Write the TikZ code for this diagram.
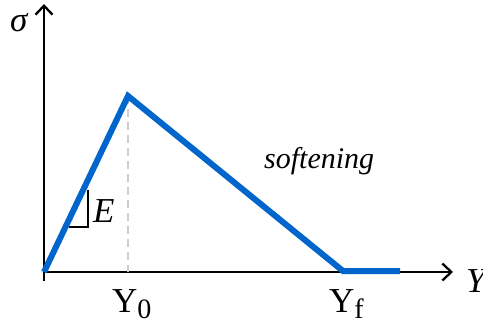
\documentclass[tikz,border=0pt]{standalone}
\usepackage{fontspec}
\setmainfont{Liberation Serif}
\usetikzlibrary{arrows.meta}
\definecolor{curveblue}{RGB}{0,102,204}
\definecolor{dashgrey}{RGB}{205,205,205}
\begin{document}
\begin{tikzpicture}[x=1pt,y=-1pt,
  axis/.style={line width=2.3pt,-{Straight Barb[length=9pt,width=17pt,line width=2.3pt]}},
  curve/.style={line width=6pt,curveblue,line join=miter,line cap=butt},
  guide/.style={line width=2pt,dashgrey,dash pattern=on 8pt off 5pt},
  lab/.style={inner sep=0pt,anchor=base west,font=\fontsize{35}{40}\selectfont}]
\useasboundingbox (0,0) rectangle (483,325);
\coordinate (O) at (44,272);
\coordinate (Ytop) at (44,4);
\coordinate (Xend) at (453,272);
\coordinate (P) at (128,96);
\coordinate (P0) at (128,272);
\coordinate (F) at (343,271);
\coordinate (R) at (400,271);
\coordinate (T) at (44,281);
\coordinate (Ea) at (69,227);
\coordinate (Eb) at (88,227);
\coordinate (Ec) at (88,190);
% axes
\draw[axis] (O) -- (Ytop);
\draw[axis] (O) -- (Xend);
\draw[line width=2.3pt] (O) -- (T);
% dashed guide
\draw[guide] (P) -- (P0);
% slope triangle
\draw[line width=1.8pt] (Ea) -- (Eb) -- (Ec);
% curve
\draw[curve] (O) -- (P) -- (F) -- (R);
% labels
\node[lab] (sig) at (10,31) {\textit{σ}};
\node[lab] (Elab) at (93,222) {\textit{E}};
\node[lab,font=\fontsize{30}{34}\selectfont] (soft) at (264,168) {\textit{softening}};
\node[lab] (Y0) at (112,312) {Y\raisebox{-6pt}{\fontsize{28}{28}\selectfont 0}};
\node[lab] (Yf) at (329,312) {Y\raisebox{-6pt}{\fontsize{28}{28}\selectfont f}};
\node[lab] (Yax) at (466,292) {\textit{Y}};
\end{tikzpicture}
\end{document}
